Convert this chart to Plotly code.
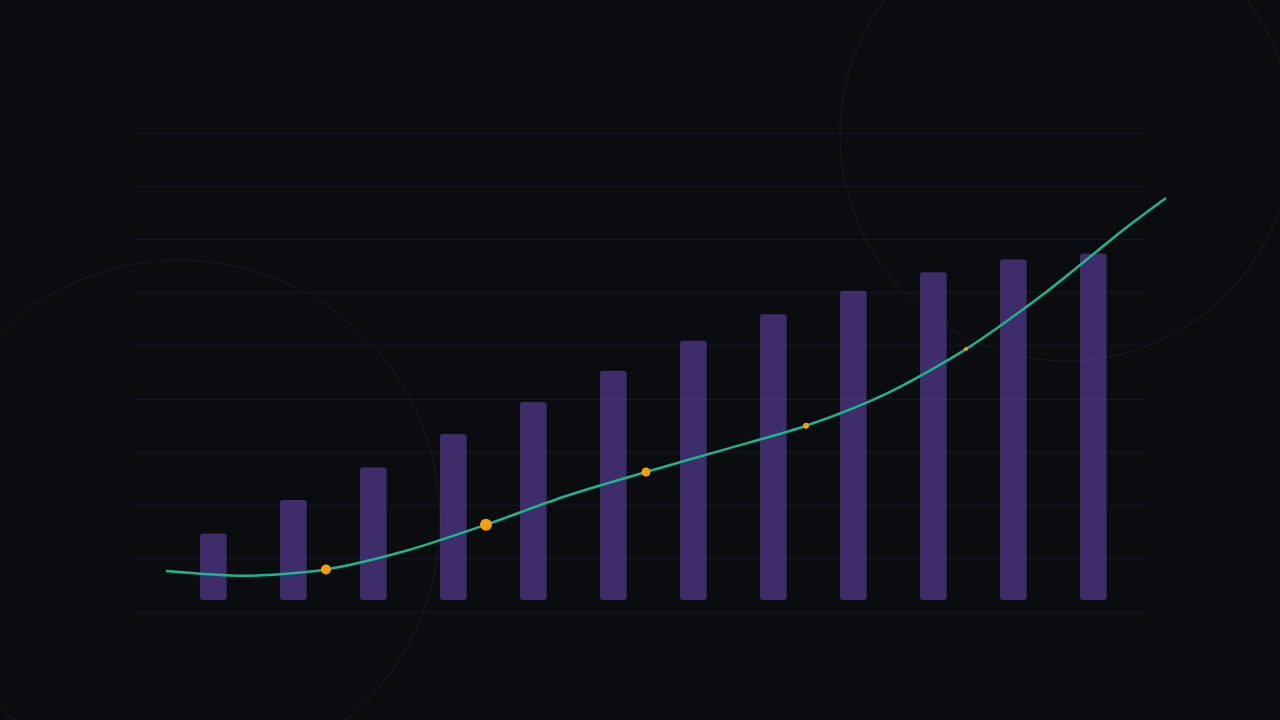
import plotly.graph_objects as go

# bars: 12 periods, heights measured from the bar baseline
bar_pos = [0, 1, 2, 3, 4, 5, 6, 7, 8, 9, 10, 11]
bar_vals = [12.5, 18.8, 24.9, 31.2, 37.2, 43.1, 48.7, 53.7, 58.1, 61.6, 64.0, 65.1]

# trend line (own x axis, one unit per bar spacing)
line_x = [0, 1, 2, 3, 4, 5, 6, 7, 8, 9, 10, 11, 12, 12.5]
line_y = [7.7, 6.8, 8.0, 11.5, 16.4, 21.8, 26.3, 30.6, 35.0, 41.0, 49.4, 60.1, 72.2, 77.8]

# highlighted points on the line
dot_x = [2, 4, 6, 8, 10]
dot_y = [8.0, 16.4, 26.3, 35.0, 49.4]
dot_size = [10, 12, 9, 6, 4]

bg = "#0b0c10"
W, H = 1280, 720
grid = "rgba(139,92,246,0.09)"

fig = go.Figure()
fig.add_trace(go.Bar(x=bar_pos, y=bar_vals, base=2.25, width=0.333,
                     marker=dict(color="rgba(139,92,246,0.40)", line_width=0, cornerradius=3),
                     xaxis="x", yaxis="y", hoverinfo="skip"))
fig.add_trace(go.Scatter(x=line_x, y=line_y, mode="lines",
                         line=dict(color="#1fb58c", width=2.5, shape="spline", smoothing=0.8),
                         xaxis="x2", yaxis="y2", hoverinfo="skip"))
fig.add_trace(go.Scatter(x=dot_x, y=dot_y, mode="markers",
                         marker=dict(color="#f59e0b", size=dot_size, opacity=1, line_width=0),
                         xaxis="x2", yaxis="y2", hoverinfo="skip"))

# y range padded a little so the 0 and 90 grid lines are drawn
ydom = [(720 - 613.6) / H, (720 - 131.4) / H]
yr = [-0.3, 90.3]
fig.update_layout(
    width=W, height=H, paper_bgcolor=bg, plot_bgcolor="rgba(0,0,0,0)",
    margin=dict(l=0, r=0, t=0, b=0), showlegend=False, hovermode=False,
    xaxis=dict(domain=[133 / W, 1147 / W], range=[-1.004, 11.671], visible=False),
    yaxis=dict(domain=ydom, range=yr, tick0=0, dtick=10, showgrid=True,
               gridcolor=grid, gridwidth=1,
               zeroline=True, zerolinecolor=grid, zerolinewidth=1,
               showticklabels=False, showline=False),
    xaxis2=dict(domain=[150 / W, 1180 / W], range=[-0.2, 12.675], visible=False,
                anchor="y2"),
    yaxis2=dict(domain=ydom, range=yr, visible=False, anchor="x2"),
    shapes=[
        dict(type="circle", xref="paper", yref="paper", layer="below",
             x0=(180 - 260) / W, x1=(180 + 260) / W,
             y0=1 - (520 + 260) / H, y1=1 - (520 - 260) / H,
             line=dict(color="#17171f", width=1.2)),
        dict(type="circle", xref="paper", yref="paper", layer="below",
             x0=(1066 - 226) / W, x1=(1066 + 226) / W,
             y0=1 - (135 + 226) / H, y1=1 - (135 - 226) / H,
             line=dict(color="#17171f", width=1.2)),
    ],
)

fig.write_html("out.html", config={"displayModeBar": False},
               post_script="document.body.style.margin='0';document.body.style.overflow='hidden';")
